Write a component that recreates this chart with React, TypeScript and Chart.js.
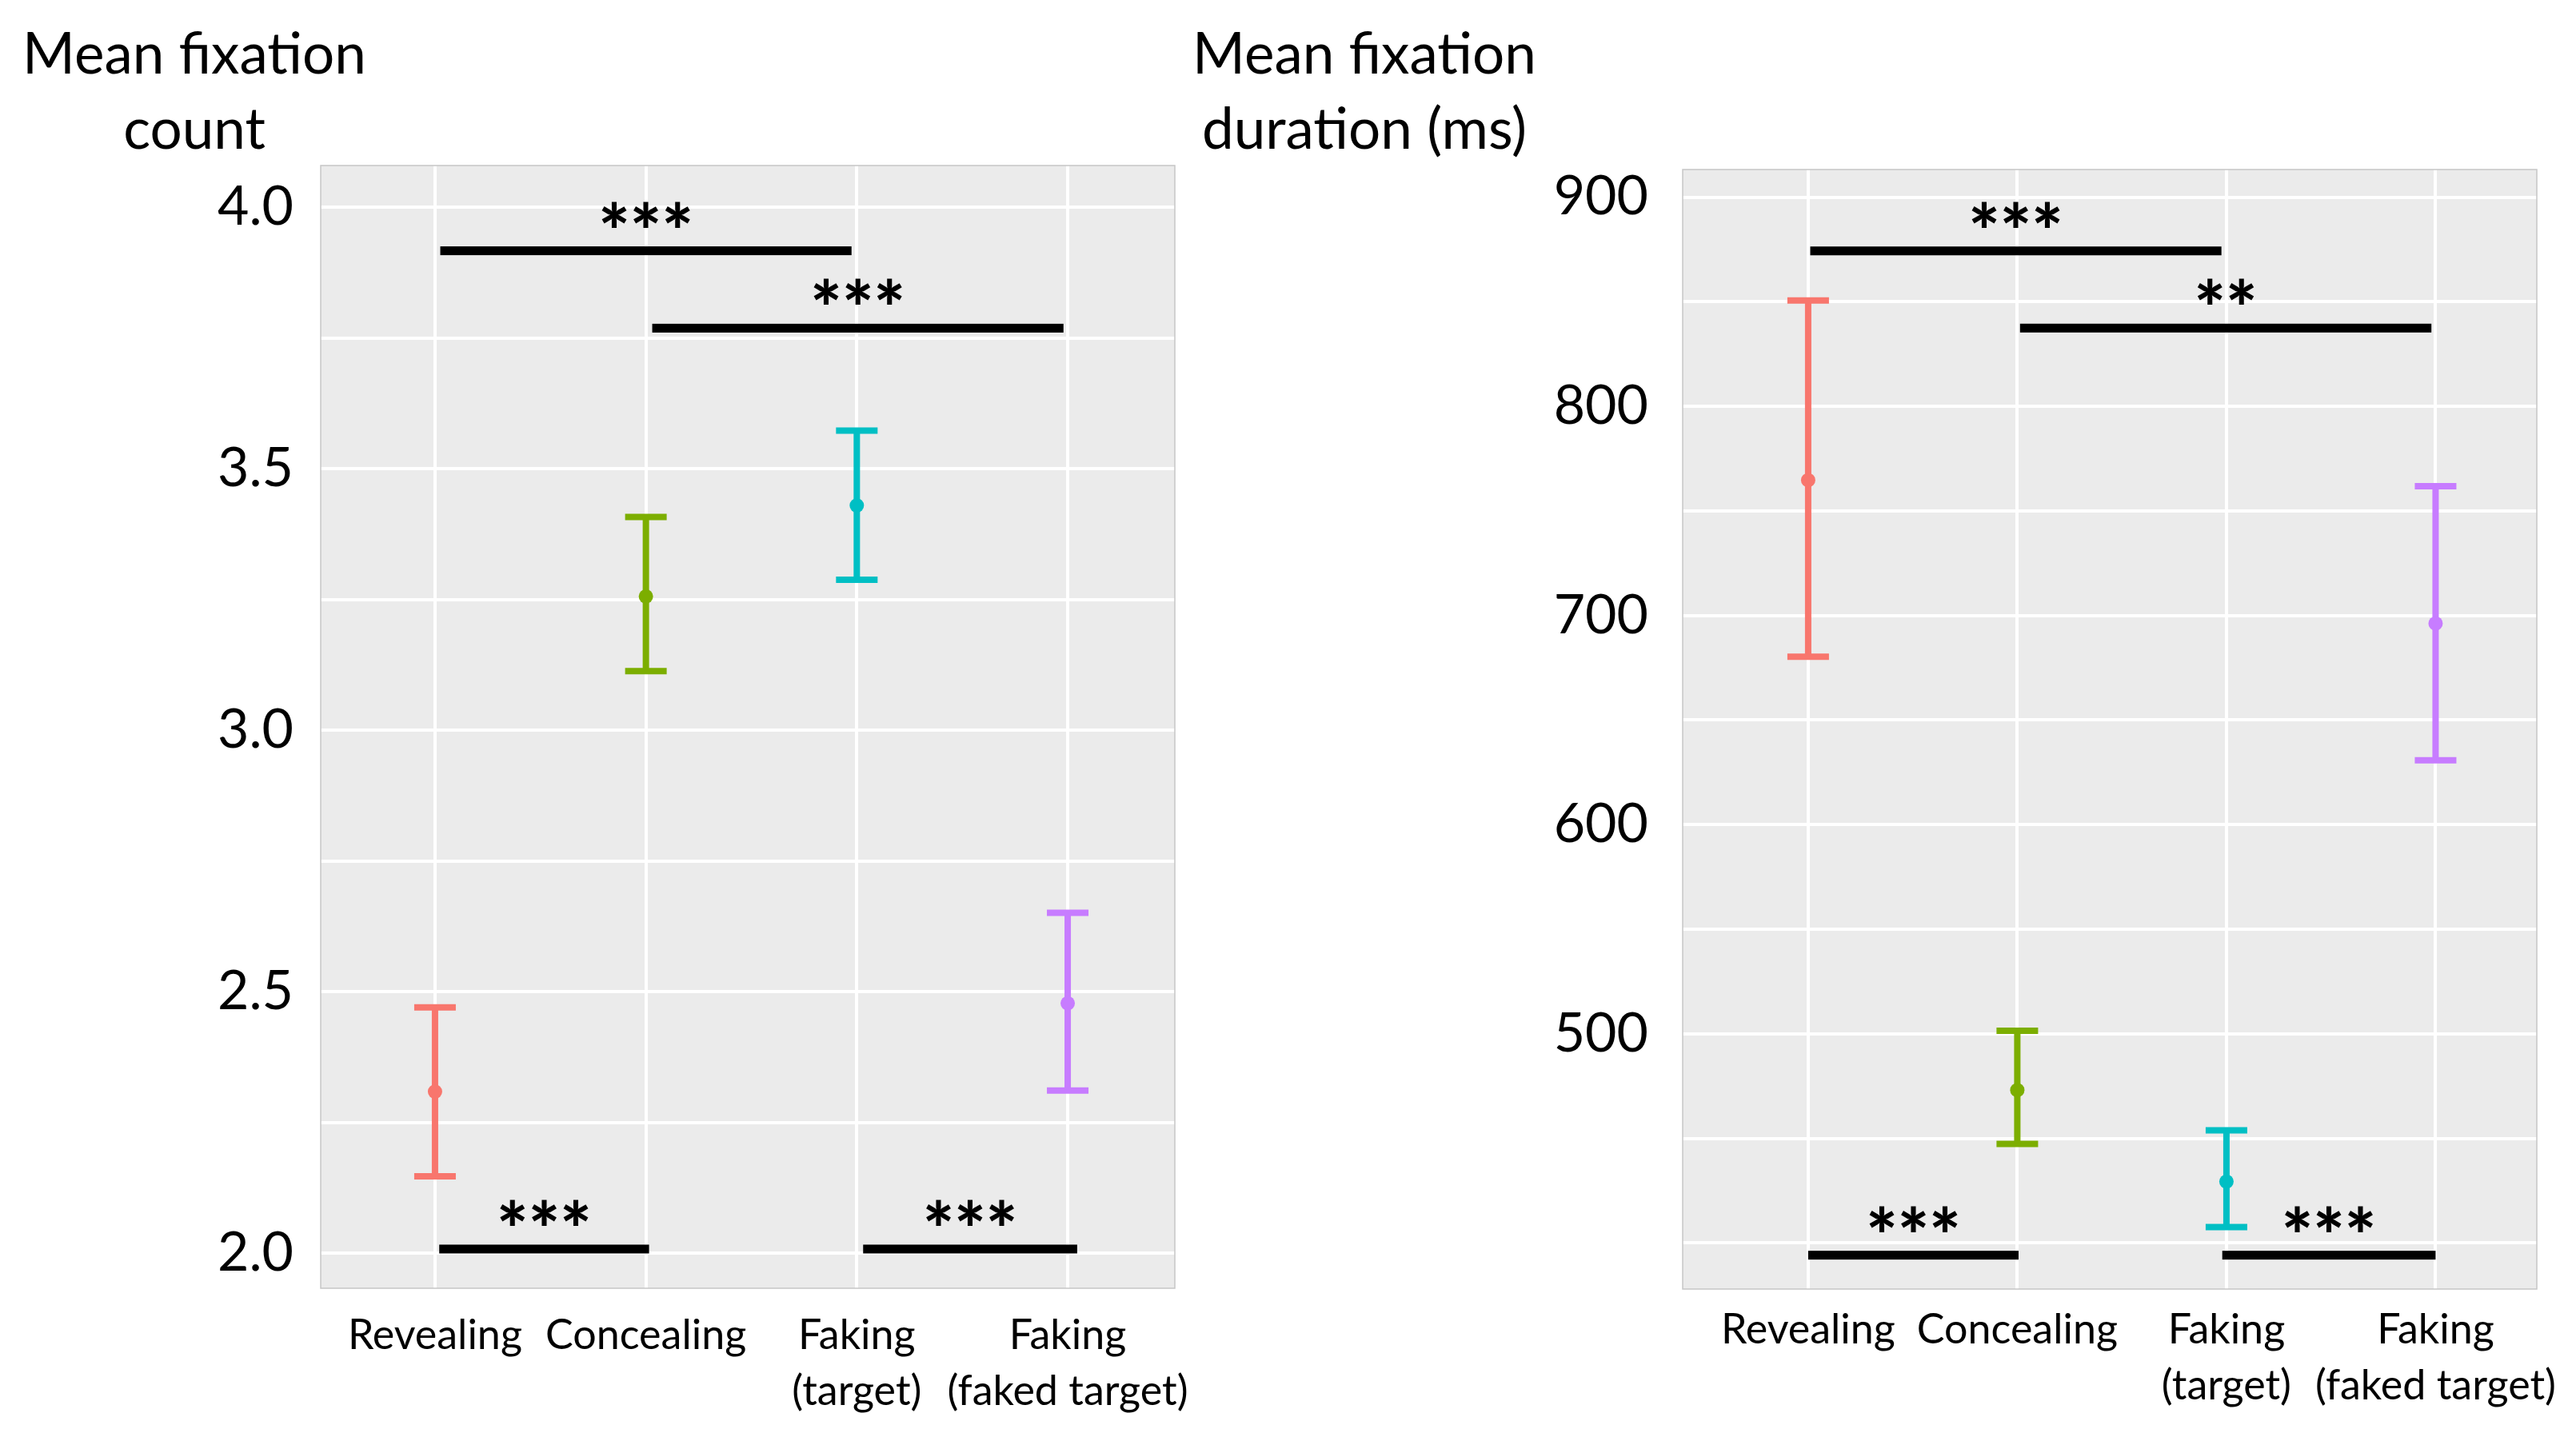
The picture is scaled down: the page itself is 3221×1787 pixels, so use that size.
import { useEffect, useRef } from "react"
import { Chart, registerables } from "chart.js"
import type { Plugin } from "chart.js"

Chart.register(...registerables)

const FONT = "Lato, 'Open Sans', sans-serif"

// categories on the x axis (positions 1..4)
const categories = [["Revealing"], ["Concealing"], ["Faking", "(target)"], ["Faking", "(faked target)"]]
const categoryPositions = [1, 2, 3, 4]
const groupColors = ["#F8766D", "#7CAE00", "#00BFC4", "#C77CFF"]

// left panel: mean fixation count
const countMean = [2.309, 3.256, 3.43, 2.478]
const countLow = [2.147, 3.113, 3.288, 2.311]
const countHigh = [2.47, 3.408, 3.573, 2.651]
const countTicks = [2.0, 2.25, 2.5, 2.75, 3.0, 3.25, 3.5, 3.75, 4.0]
const countTickLabels = ["2.0", "", "2.5", "", "3.0", "", "3.5", "", "4.0"]
const countSigFrom = [1.025, 2.03, 1.02, 3.03]
const countSigTo = [2.975, 3.98, 2.015, 4.045]
const countSigY = [3.917, 3.769, 2.008, 2.008]
const countSigLabel = ["***", "***", "***", "***"]

// right panel: mean fixation duration (ms)
const durationMean = [764.7, 473.1, 429.4, 696.2]
const durationLow = [680.3, 447.4, 407.6, 630.8]
const durationHigh = [850.6, 501.5, 453.9, 761.8]
const durationTicks = [400, 450, 500, 550, 600, 650, 700, 750, 800, 850, 900]
const durationTickLabels = ["", "", "500", "", "600", "", "700", "", "800", "", "900"]
const durationSigFrom = [1.01, 2.013, 1.0, 2.98]
const durationSigTo = [2.976, 3.98, 2.006, 4.0]
const durationSigY = [874.3, 837.4, 394.2, 394.2]
const durationSigLabel = ["***", "**", "***", "***"]

interface PanelProps {
  title: string[]
  titleX: number
  left: number
  width: number
  height: number
  mean: number[]
  low: number[]
  high: number[]
  ticks: number[]
  tickLabels: string[]
  yMin: number
  yMax: number
  xMin: number
  xMax: number
  sigFrom: number[]
  sigTo: number[]
  sigY: number[]
  sigLabel: string[]
  areaTop: number
  areaRight: number
  axisWidth: number
  axisHeight: number
  yPadding: number
  xPadding: number
}

function decorPlugin(p: PanelProps): Plugin {
  return {
    id: "panelDecor",
    beforeDraw(chart) {
      const { ctx, chartArea: a } = chart
      ctx.save()
      ctx.fillStyle = "#EBEBEB"
      ctx.fillRect(a.left, a.top, a.right - a.left, a.bottom - a.top)
      ctx.restore()
    },
    beforeDatasetsDraw(chart) {
      const { ctx, chartArea: a, scales } = chart
      const x = scales.x
      const y = scales.y
      ctx.save()
      ctx.strokeStyle = "#C6C6C6"
      ctx.lineWidth = 1.5
      ctx.strokeRect(a.left, a.top, a.right - a.left, a.bottom - a.top)
      // error bars
      p.mean.forEach((_, i) => {
        const px = x.getPixelForValue(categoryPositions[i])
        const top = y.getPixelForValue(p.high[i])
        const bottom = y.getPixelForValue(p.low[i])
        ctx.strokeStyle = groupColors[i]
        ctx.lineWidth = 8
        ctx.beginPath()
        ctx.moveTo(px, top)
        ctx.lineTo(px, bottom)
        ctx.moveTo(px - 26, top)
        ctx.lineTo(px + 26, top)
        ctx.moveTo(px - 26, bottom)
        ctx.lineTo(px + 26, bottom)
        ctx.stroke()
      })
      ctx.restore()
    },
    afterDatasetsDraw(chart) {
      const { ctx, scales } = chart
      const x = scales.x
      const y = scales.y
      ctx.save()
      ctx.fillStyle = "#000"
      ctx.font = `900 93px ${FONT}`
      ctx.textAlign = "center"
      ctx.textBaseline = "alphabetic"
      p.sigY.forEach((v, i) => {
        const x1 = x.getPixelForValue(p.sigFrom[i])
        const x2 = x.getPixelForValue(p.sigTo[i])
        const py = y.getPixelForValue(v)
        ctx.fillRect(x1, py - 5.5, x2 - x1, 11)
        ctx.fillText(p.sigLabel[i], (x1 + x2) / 2, py + 10)
      })
      ctx.restore()
    },
    afterDraw(chart) {
      const { ctx } = chart
      ctx.save()
      ctx.fillStyle = "#000"
      ctx.font = `71px ${FONT}`
      ctx.textAlign = "center"
      ctx.textBaseline = "alphabetic"
      p.title.forEach((line, i) => ctx.fillText(line, p.titleX, 92 + i * 94))
      ctx.restore()
    },
  }
}

function Panel(p: PanelProps) {
  const chartRef = useRef<HTMLCanvasElement>(null)
  const chartInstance = useRef<Chart | null>(null)

  useEffect(() => {
    if (!chartRef.current) return
    if (chartInstance.current) chartInstance.current.destroy()
    const ctx = chartRef.current.getContext("2d")
    if (!ctx) return

    chartInstance.current = new Chart(ctx, {
      type: "scatter",
      data: {
        datasets: [
          {
            data: p.mean.map((m, i) => ({ x: categoryPositions[i], y: m })),
            pointBackgroundColor: groupColors,
            pointBorderWidth: 0,
            pointRadius: 9,
            showLine: false,
          },
        ],
      },
      options: {
        responsive: false,
        animation: false,
        devicePixelRatio: 1,
        layout: { padding: { top: p.areaTop, right: p.areaRight, left: 0, bottom: 0 } },
        plugins: {
          legend: { display: false },
          tooltip: { enabled: false },
          title: { display: false },
        },
        scales: {
          x: {
            type: "linear",
            min: p.xMin,
            max: p.xMax,
            afterBuildTicks: (axis) => {
              axis.ticks = categoryPositions.map((v) => ({ value: v }))
            },
            afterFit: (axis) => {
              axis.height = p.axisHeight
            },
            grid: { color: "#FFFFFF", lineWidth: 4, drawTicks: false },
            border: { display: false },
            ticks: {
              autoSkip: false,
              maxRotation: 0,
              padding: p.xPadding,
              color: "#000",
              font: { family: FONT, size: 52, lineHeight: 1.35 },
              callback: (value) => categories[categoryPositions.indexOf(Number(value))] ?? "",
            },
          },
          y: {
            type: "linear",
            min: p.yMin,
            max: p.yMax,
            afterBuildTicks: (axis) => {
              axis.ticks = p.ticks.map((v) => ({ value: v }))
            },
            afterFit: (axis) => {
              axis.width = p.axisWidth
            },
            grid: { color: "#FFFFFF", lineWidth: 4, drawTicks: false },
            border: { display: false },
            ticks: {
              autoSkip: false,
              padding: p.yPadding,
              color: "#000",
              font: { family: FONT, size: 68 },
              callback: (value) => {
                const i = p.ticks.indexOf(Number(value))
                return i >= 0 ? p.tickLabels[i] : ""
              },
            },
          },
        },
      },
      plugins: [decorPlugin(p)],
    })

    return () => {
      if (chartInstance.current) {
        chartInstance.current.destroy()
        chartInstance.current = null
      }
    }
  }, [p])

  return (
    <canvas
      ref={chartRef}
      width={p.width}
      height={p.height}
      style={{ position: "absolute", left: p.left, top: 0, width: p.width, height: p.height }}
    />
  )
}

const countPanel: PanelProps = {
  title: ["Mean fixation", "count"],
  titleX: 243,
  left: 0,
  width: 1560,
  height: 1787,
  mean: countMean,
  low: countLow,
  high: countHigh,
  ticks: countTicks,
  tickLabels: countTickLabels,
  yMin: 1.933,
  yMax: 4.08,
  xMin: 0.458,
  xMax: 4.508,
  sigFrom: countSigFrom,
  sigTo: countSigTo,
  sigY: countSigY,
  sigLabel: countSigLabel,
  areaTop: 207,
  areaRight: 91,
  axisWidth: 401,
  axisHeight: 176,
  yPadding: 34,
  xPadding: 24,
}

const durationPanel: PanelProps = {
  title: ["Mean fixation", "duration (ms)"],
  titleX: 236,
  left: 1470,
  width: 1880,
  height: 1787,
  mean: durationMean,
  low: durationLow,
  high: durationHigh,
  ticks: durationTicks,
  tickLabels: durationTickLabels,
  yMin: 378,
  yMax: 913.2,
  xMin: 0.4,
  xMax: 4.484,
  sigFrom: durationSigFrom,
  sigTo: durationSigTo,
  sigY: durationSigY,
  sigLabel: durationSigLabel,
  areaTop: 212,
  areaRight: 1880 - (3172 - 1470),
  axisWidth: 634,
  axisHeight: 175,
  yPadding: 43,
  xPadding: 16,
}

export default function App() {
  return (
    <div
      style={{
        position: "fixed",
        left: 0,
        top: 0,
        width: 3221,
        height: 1787,
        overflow: "hidden",
        background: "#FFFFFF",
      }}
    >
      <Panel {...countPanel} />
      <Panel {...durationPanel} />
    </div>
  )
}
